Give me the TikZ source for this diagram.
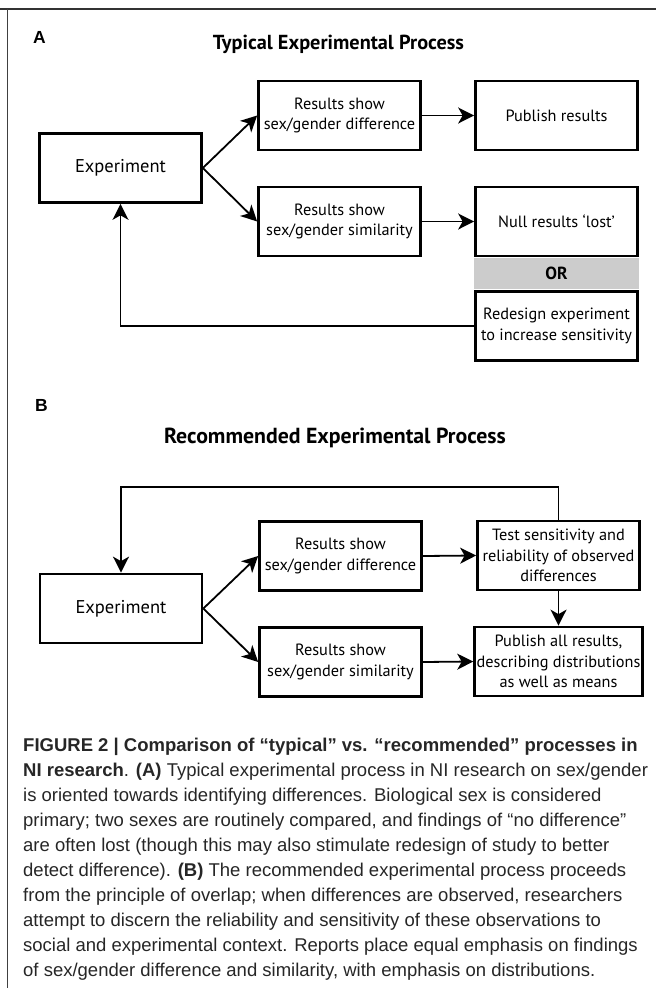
\documentclass[tikz,border=0pt]{standalone}
\usepackage{fontspec}
\setmainfont{PT Sans}
\newfontfamily\capfont{Liberation Sans}
\usetikzlibrary{arrows.meta}

\tikzset{
  box/.style={draw, line width=2.7pt, minimum width=162pt, minimum height=69pt,
    align=center, inner sep=2pt, font=\fontsize{16.3}{20.5}\selectfont},
  bigbox/.style={box, font=\fontsize{18.5}{21}\selectfont},
  arr/.style={-{Stealth[length=16pt,width=16pt,inset=4.5pt]}, line width=1.8pt},
  title/.style={anchor=base, inner sep=0pt, font=\bfseries\fontsize{#1}{#1}\selectfont},
  panel/.style={anchor=base west, inner sep=0pt, font=\capfont\bfseries\fontsize{17.5}{17.5}\selectfont},
  capline/.style={anchor=base west, inner sep=0pt, text=black!85,
    font=\capfont\fontsize{18.5}{25}\selectfont}
}

\begin{document}
\begin{tikzpicture}[x=1pt, y=-1pt]
\useasboundingbox (0,0) rectangle (656,988);

% --- frame ---
\draw[black!80, line width=1.3pt] (0,9) -- (656,9);
\draw[black!75, line width=1pt] (7.5,9) -- (7.5,988);

% --- Panel A: typical process ---
\node[panel] (labA) at (33,43) {A};
\node[title=20.3] (titA) at (338.5,49) {Typical Experimental Process};

\node[fill=black!20, minimum width=165pt, minimum height=31pt, inner sep=0pt,
  font=\bfseries\fontsize{17.5}{17.5}\selectfont] (orA) at (556.5,273) {OR};

\node[bigbox] (expA) at (120.5,168) {Experiment};
\node[box] (diffA) at (339.5,115.5) {Results show\\sex/gender difference};
\node[box] (pubA) at (556.5,115.5) {Publish results};
\node[box] (simA) at (339.5,221.5) {Results show\\sex/gender similarity};
\node[box] (nullA) at (556.5,221.5) {Null results ‘lost’};
\node[box] (redA) at (556.5,326) {Redesign experiment\\to increase sensitivity};

\draw[arr] (expA.east) -- (diffA.west);
\draw[arr] (expA.east) -- (simA.west);
\draw[arr] (diffA.east) -- (pubA.west);
\draw[arr] (simA.east) -- (nullA.west);
\draw[arr] (redA.west) -| (expA.south);

% --- Panel B: recommended process ---
\node[panel] (labB) at (35,411) {B};
\node[title=21.8] (titB) at (335,443) {Recommended Experimental Process};

\node[bigbox] (expB) at (121,608.5) {Experiment};
\node[box] (diffB) at (340.5,556) {Results show\\sex/gender difference};
\node[box] (testB) at (558.5,555.5) {Test sensitivity and\\reliability of observed\\differences};
\node[box] (simB) at (340.5,662) {Results show\\sex/gender similarity};
\node[box] (allB) at (558.5,661.5) {Publish all results,\\describing distributions\\as well as means};

\coordinate (topB) at (340,487);

\draw[arr] (expB.east) -- (diffB.west);
\draw[arr] (expB.east) -- (simB.west);
\draw[arr] (diffB.east) -- (testB.west);
\draw[arr] (simB.east) -- (allB.west);
\draw[arr] (testB.south) -- (allB.north);
\draw[arr] (testB.north) -- (testB.north |- topB) -| (expB.north);

% --- caption ---
\foreach \txt [count=\k] in {
  {\textbf{FIGURE 2 | Comparison of “typical” vs. “recommended” processes in}},
  {\textbf{NI research}. \textbf{(A)} Typical experimental process in NI research on sex/gender},
  {is oriented towards identifying differences. Biological sex is considered},
  {primary; two sexes are routinely compared, and findings of “no difference”},
  {are often lost (though this may also stimulate redesign of study to better},
  {detect difference). \textbf{(B)} The recommended experimental process proceeds},
  {from the principle of overlap; when differences are observed, researchers},
  {attempt to discern the reliability and sensitivity of these observations to},
  {social and experimental context. Reports place equal emphasis on findings},
  {of sex/gender difference and similarity, with emphasis on distributions.}} {
    \node[capline] (cap\k) at (23, 726.7+25*\k) {\txt};
}

\end{tikzpicture}
\end{document}
